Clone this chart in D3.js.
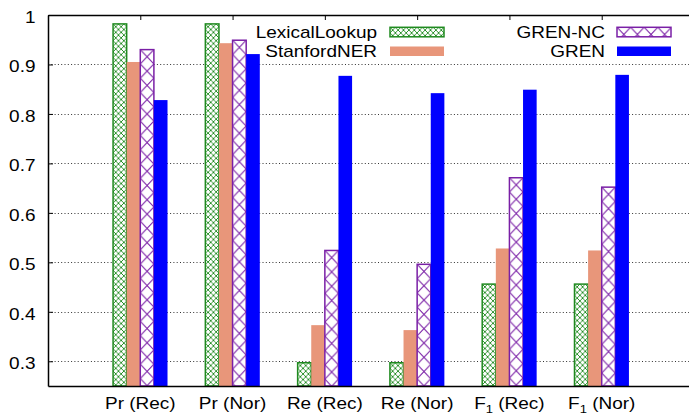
<!DOCTYPE html>
<meta charset="utf-8">
<style>
body { margin: 0; background: #fff; }
text {
  font-family: "Liberation Sans", Arial, Helvetica, sans-serif;
  font-size: 16.8px;
  fill: #000;
}
</style>
<svg width="689" height="416"></svg>
<script src="https://d3js.org/d3.v7.min.js"></script>
<script>

// data
var categories = ["Pr (Rec)", "Pr (Nor)", "Re (Rec)", "Re (Nor)", "F1 (Rec)", "F1 (Nor)"]
var seriesNames = ["LexicalLookup", "StanfordNER", "GREN-NC", "GREN"]
var lexicalLookup = [0.982, 0.982, 0.297, 0.297, 0.456, 0.456]
var stanfordNER   = [0.905, 0.943, 0.373, 0.363, 0.528, 0.524]
var grenNC        = [0.930, 0.949, 0.524, 0.496, 0.671, 0.652]
var gren          = [0.828, 0.921, 0.877, 0.842, 0.849, 0.879]
var yTicks = [0.3, 0.4, 0.5, 0.6, 0.7, 0.8, 0.9, 1]

var seriesValues = [lexicalLookup, stanfordNER, grenNC, gren]

// styles
var colors = ["#1f8a1f", "#e8967a", "#7a1fa6", "#0000ff"]
var hatch = [{w: 5.4, h: 5.6, sw: 0.9}, null, {w: 13.6, h: 14.3, sw: 1.1}, null]
var stretchX = 1.13

var svg = d3.select("svg"),
    plotLeft = 48, plotRight = 694, plotTop = 15, plotBottom = 386

var x = d3.scaleLinear().domain([-1, 6]).range([plotLeft, plotRight]),
    y = d3.scaleLinear().domain([0.25, 1]).range([plotBottom, plotTop])

var bw = (x(1) - x(0)) * 0.1475

var defs = svg.append("defs")

function makePattern(id, j, px, py) {
  var h = hatch[j]
  var p = defs.append("pattern")
      .attr("id", id)
      .attr("patternUnits", "userSpaceOnUse")
      .attr("x", px).attr("y", py)
      .attr("width", h.w).attr("height", h.h)
  p.append("rect").attr("width", h.w).attr("height", h.h).style("fill", "#fff")
  p.append("path")
      .attr("d", "M0,0L" + h.w + "," + h.h + "M0," + h.h + "L" + h.w + ",0")
      .style("stroke", colors[j])
      .style("stroke-width", h.sw)
      .style("fill", "none")
  return "url(#" + id + ")"
}

function fillFor(j, i, px, py) {
  if (!hatch[j]) return colors[j]
  return makePattern("p" + j + "_" + i, j, px, py)
}

// grid
svg.append("g")
  .selectAll("line")
  .data(yTicks.filter(function(d) { return d < 1 }))
  .enter().append("line")
    .attr("x1", plotLeft).attr("x2", plotRight)
    .attr("y1", function(d) { return Math.round(y(d)) + 0.5 })
    .attr("y2", function(d) { return Math.round(y(d)) + 0.5 })
    .style("stroke", "#333")
    .style("stroke-width", 1)
    .style("stroke-dasharray", "1,2.3")

// bars
seriesValues.forEach(function(vals, j) {
  svg.append("g")
    .selectAll("rect")
    .data(vals)
    .enter().append("rect")
      .attr("x", function(d, i) { return x(i) + (j - 2) * bw })
      .attr("y", function(d) { return y(d) })
      .attr("width", bw)
      .attr("height", function(d) { return y(0.25) - y(d) })
      .style("fill", function(d, i) { return fillFor(j, i, x(i) + (j - 2) * bw, y(d)) })
      .style("stroke", hatch[j] ? colors[j] : "none")
      .style("stroke-width", 1.5)
})

// axes
function stretch(sel, tx, ty) {
  sel.attr("x", null).attr("y", null).attr("dy", null)
     .attr("transform", "translate(" + tx + "," + ty + ") scale(" + stretchX + ",1)")
}

var yAxis = svg.append("g")
    .attr("transform", "translate(" + plotLeft + ",0)")
    .call(d3.axisLeft(y).tickValues(yTicks).tickSize(-5).tickSizeOuter(0)
          .tickFormat(d3.format("~g")))
yAxis.selectAll("text").call(stretch, -12.5, 7.4).attr("text-anchor", "end")

var topAxis = svg.append("g")
    .attr("transform", "translate(0," + plotTop + ")")
    .call(d3.axisTop(x).tickValues(d3.range(categories.length)).tickSize(-5)
          .tickSizeOuter(0).tickFormat(""))

var bottomAxis = svg.append("g")
    .attr("transform", "translate(0," + plotBottom + ")")
    .call(d3.axisBottom(x).tickValues(d3.range(categories.length)).tickSize(0)
          .tickSizeOuter(0).tickFormat(""))

svg.selectAll(".domain").style("stroke", "#000").style("stroke-width", 1.5)
svg.selectAll(".tick line").style("stroke", "#000").style("stroke-width", 1)
svg.selectAll(".tick text").style("font-size", "16.8px")
  .style("font-family", "'Liberation Sans', Arial, Helvetica, sans-serif")

// category labels (F1 gets a subscript)
var labels = svg.append("g")
  .selectAll("text")
  .data(categories)
  .enter().append("text")
    .attr("text-anchor", "middle")
    .attr("transform", function(d, i) {
      return "translate(" + x(i) + ",409) scale(" + stretchX + ",1)" })

labels.each(function(d) {
  var t = d3.select(this)
  if (d.indexOf("F1") === 0) {
    t.append("tspan").text("F")
    t.append("tspan").text("1").attr("dy", 3.5).style("font-size", "11.5px")
    t.append("tspan").text(d.slice(2)).attr("dy", -3.5)
  } else {
    t.text(d)
  }
})

// legend
var legendTextX = [377, 605],
    legendSwatchX = [390, 617],
    legendBase = [37.7, 57],
    legendSwatchY = [27.3, 46.5],
    swW = 54, swH = 9.5

var legend = svg.append("g")
  .selectAll("g")
  .data(seriesNames)
  .enter().append("g")

legend.append("text")
    .attr("text-anchor", "end")
    .attr("transform", function(d, j) {
      return "translate(" + legendTextX[Math.floor(j / 2)] + "," + legendBase[j % 2] +
             ") scale(" + stretchX + ",1)" })
    .text(function(d) { return d })

legend.append("rect")
    .attr("x", function(d, j) { return legendSwatchX[Math.floor(j / 2)] })
    .attr("y", function(d, j) { return legendSwatchY[j % 2] })
    .attr("width", swW)
    .attr("height", swH)
    .style("fill", function(d, j) {
      return fillFor(j, "leg", legendSwatchX[Math.floor(j / 2)], legendSwatchY[j % 2]) })
    .style("stroke", function(d, j) { return hatch[j] ? colors[j] : "none" })
    .style("stroke-width", 1.5)

</script>
